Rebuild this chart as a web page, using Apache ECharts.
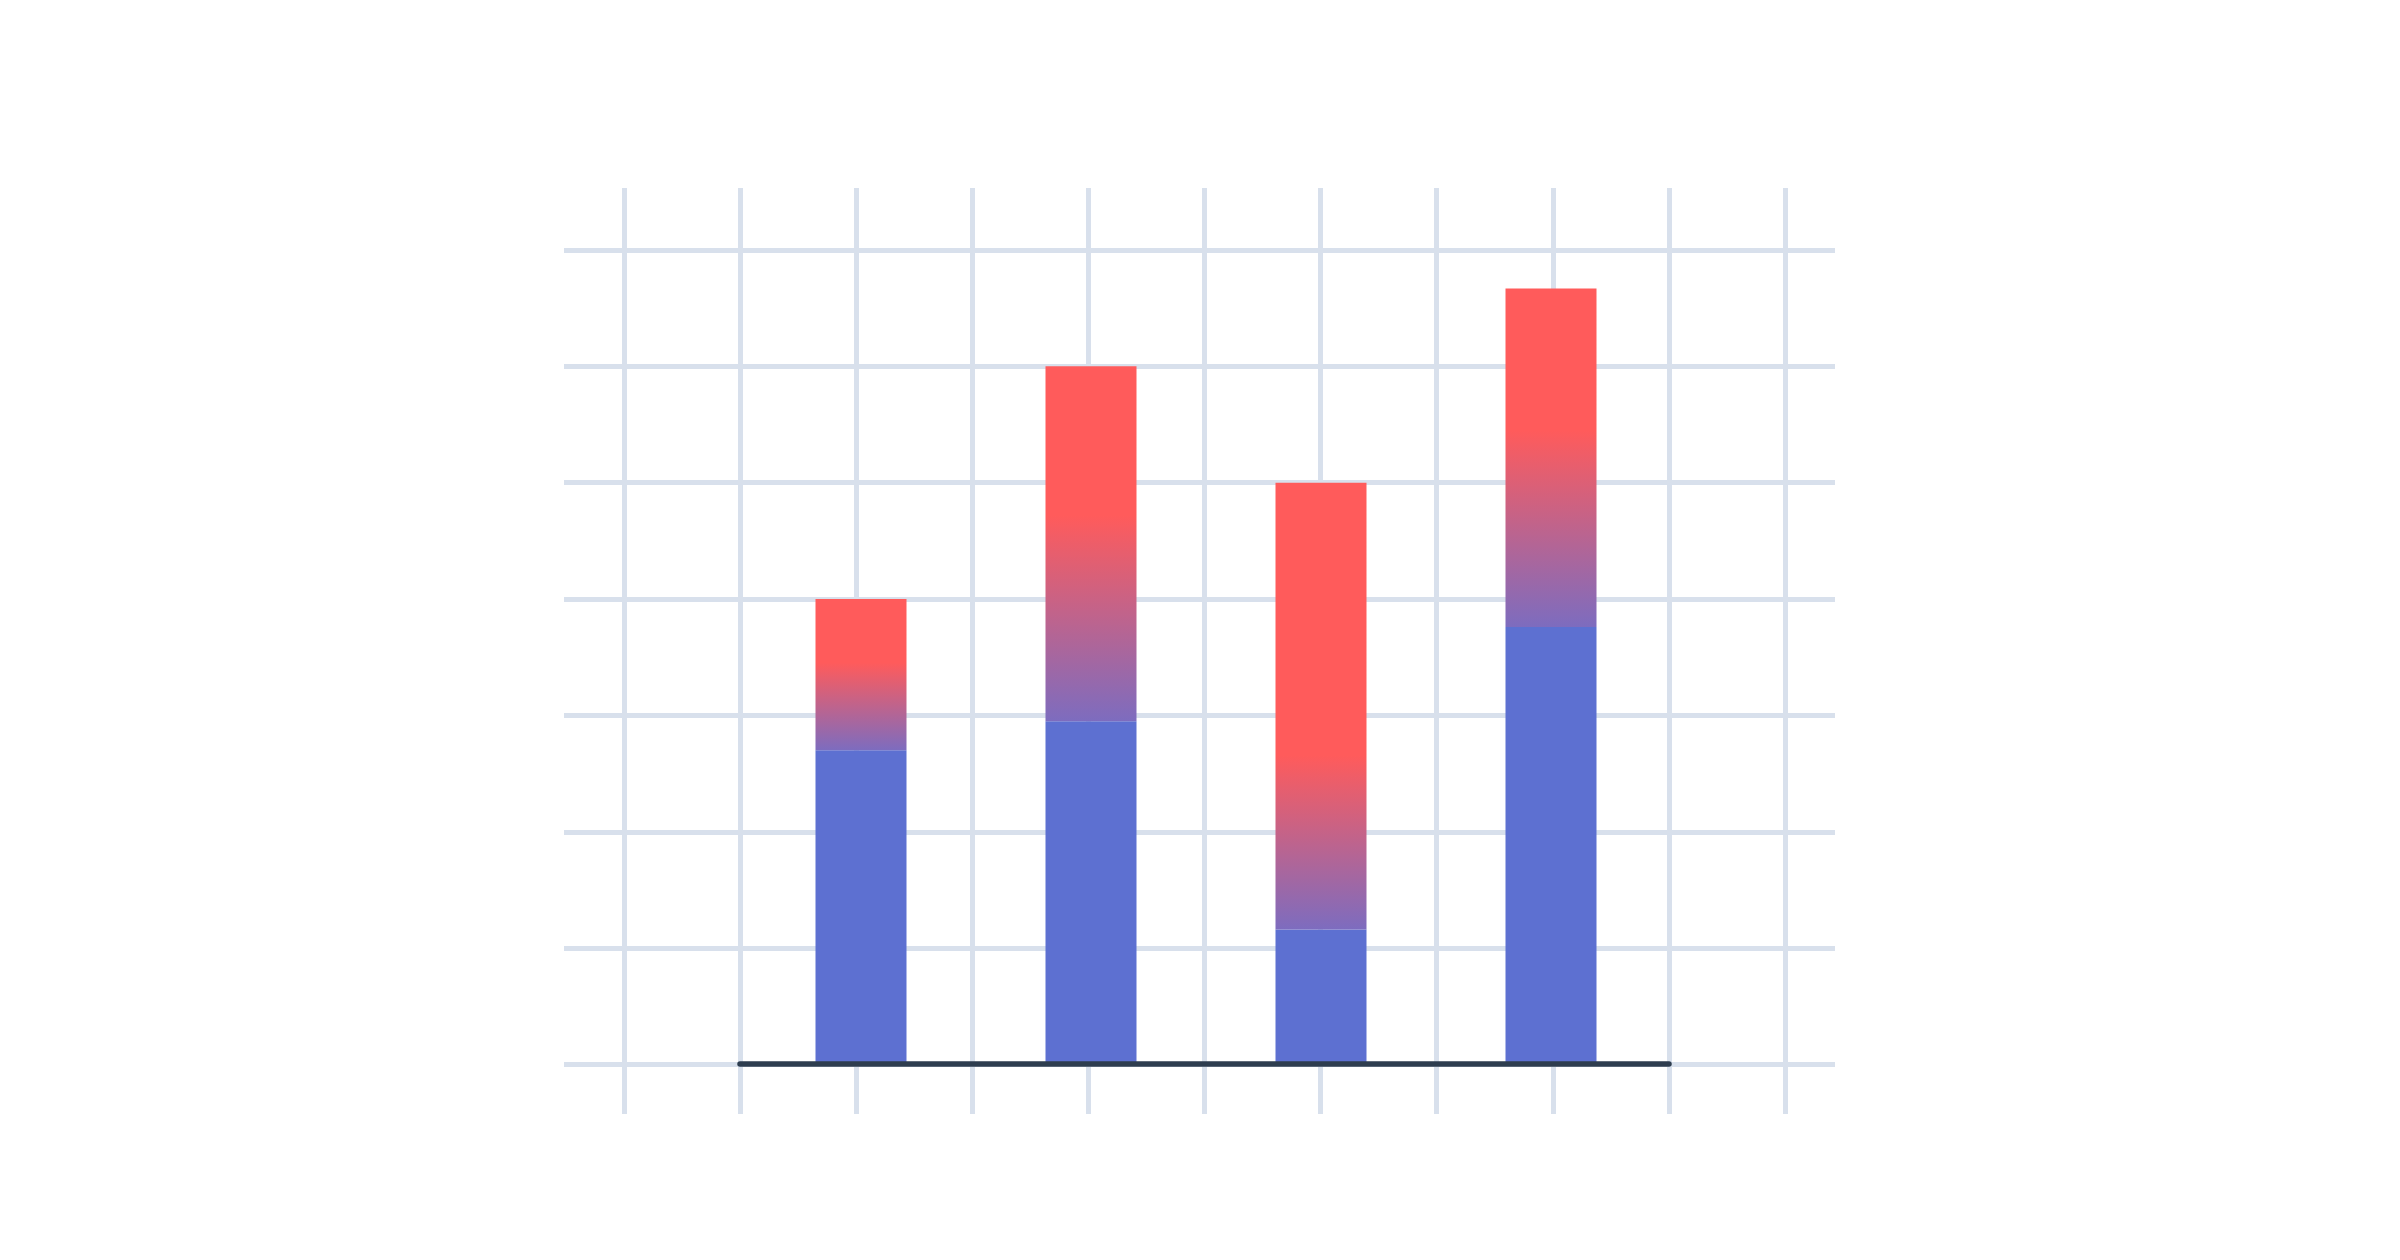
<!DOCTYPE html>
<html>
<head>
<meta charset="utf-8">
<title>Stacked gradient bars</title>
<script src="https://cdn.jsdelivr.net/npm/echarts@6/dist/echarts.min.js"></script>
<style>
  html, body { margin: 0; padding: 0; background: #ffffff; }
  #chart { width: 2400px; height: 1260px; }
</style>
</head>
<body>
<div id="chart"></div>
<script>
// ---- data ----
const categories = ['A', 'B', 'C', 'D'];
const baseValues = [2.7, 2.95, 1.16, 3.76];
const topValues = [1.3, 3.05, 3.84, 2.91];
const yTicks = [0, 1, 2, 3, 4, 5, 6, 7];
const xTicks = [0, 1, 2, 3, 4, 5, 6, 7, 8, 9, 10];

// ---- styles ----
const RED = '#FF5B5B';
const BLUE = '#5D70D1';
const FADE_END = '#7D6CBF';
const GRID_COLOR = '#D8E0EC';
const fadeStart = [0.42, 0.42, 0.61, 0.42];

const chart = echarts.init(document.getElementById('chart'), null, { renderer: 'canvas' });

const gridLine = { show: true, lineStyle: { color: GRID_COLOR, width: 5 } };
const hiddenParts = { axisLine: { show: false }, axisTick: { show: false }, axisLabel: { show: false } };

const option = {
  backgroundColor: '#ffffff',
  animation: false,
  grid: [
    { left: 746, right: 734, top: 250, bottom: 195.5 },
    { left: 564, right: 565, top: 250, bottom: 195.5 },
    { left: 624, right: 615, top: 188, bottom: 146 },
    { left: 740, right: 731, top: 250, bottom: 196.5 }
  ],
  xAxis: [
    Object.assign({ gridIndex: 0, type: 'category', data: categories, splitLine: { show: false } }, hiddenParts),
    { gridIndex: 1, type: 'value', show: false },
    Object.assign({
      gridIndex: 2, type: 'value', min: xTicks[0], max: xTicks[xTicks.length - 1], interval: 1,
      splitLine: gridLine, z: 0
    }, hiddenParts),
    {
      gridIndex: 3, type: 'category', data: categories, z: 10,
      axisLine: { show: true, lineStyle: { color: '#2E3D4F', width: 5.5 } },
      axisTick: { show: false }, axisLabel: { show: false }, splitLine: { show: false }
    }
  ],
  yAxis: [
    Object.assign({
      gridIndex: 0, type: 'value', min: yTicks[0], max: yTicks[yTicks.length - 1],
      splitLine: { show: false }
    }, hiddenParts),
    Object.assign({
      gridIndex: 1, type: 'value', min: yTicks[0], max: yTicks[yTicks.length - 1], interval: 1,
      splitLine: gridLine, z: 0
    }, hiddenParts),
    { gridIndex: 2, type: 'value', show: false },
    { gridIndex: 3, type: 'value', show: false, min: 0, max: 1 }
  ],
  series: [
    {
      name: 'base', type: 'bar', stack: 'total', xAxisIndex: 0, yAxisIndex: 0,
      barWidth: 91, z: 3,
      itemStyle: { color: BLUE },
      data: baseValues
    },
    {
      name: 'top', type: 'bar', stack: 'total', xAxisIndex: 0, yAxisIndex: 0,
      barWidth: 91, z: 3,
      data: topValues.map((v, i) => ({
        value: v,
        itemStyle: {
          color: new echarts.graphic.LinearGradient(0, 0, 0, 1, [
            { offset: 0, color: RED },
            { offset: fadeStart[i], color: RED },
            { offset: 1, color: FADE_END }
          ])
        }
      }))
    }
  ]
};

chart.setOption(option);
</script>
</body>
</html>
